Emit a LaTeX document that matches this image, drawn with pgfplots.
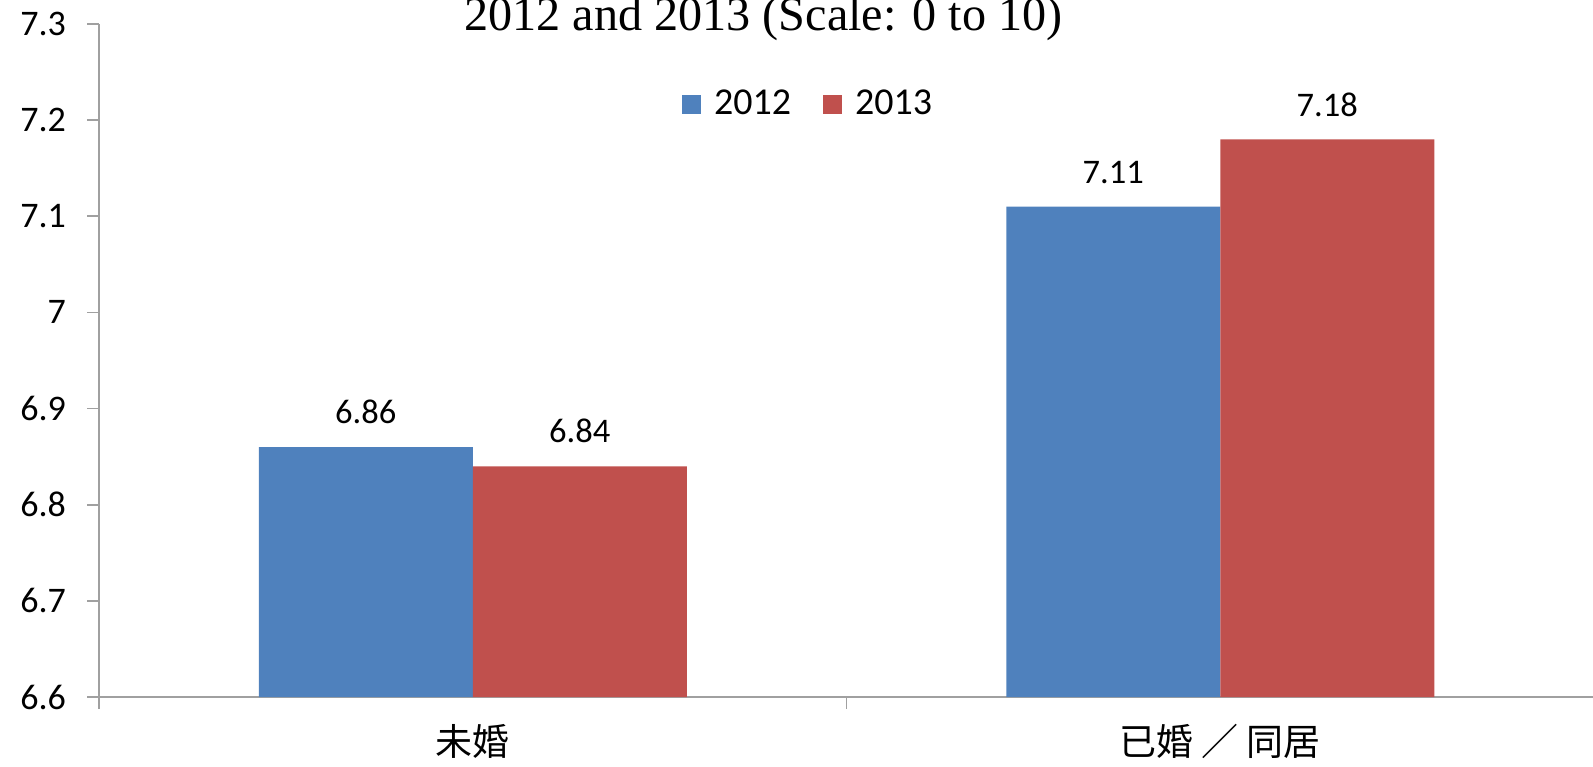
\documentclass[border=0pt]{standalone}
\usepackage{fontspec}
\setmainfont{Carlito}
\newfontfamily\timesfont{Liberation Serif}
\newfontfamily\cjk{Noto Sans CJK TC}
\usepackage{pgfplots}
\pgfplotsset{compat=1.18}
\definecolor{cblue}{HTML}{4F81BD}
\definecolor{cred}{HTML}{C0504D}
\definecolor{axgray}{HTML}{A0A0A0}
\begin{document}
\begin{tikzpicture}
\useasboundingbox (0,0) rectangle (796.5pt,383pt);
\begin{axis}[
  at={(49.5pt,34.5pt)}, anchor=south west,
  scale only axis, width=747.5pt, height=336.5pt,
  xmin=-0.5, xmax=1.5, ymin=6.6, ymax=7.3,
  ybar=0pt, bar width=107pt,
  axis x line=bottom, axis y line=left,
  axis line style={-, draw=axgray, line width=0.8pt},
  tick align=outside, major tick length=6pt,
  tick style={draw=axgray, line width=0.8pt},
  ytick={6.6,6.7,6.8,6.9,7,7.1,7.2,7.3},
  yticklabel style={font=\fontsize{18}{20}\selectfont, xshift=-7pt, /pgf/number format/assume math mode=true},
  xtick={-0.5,0.5,1.5}, xticklabels={,,},
  extra x ticks={0,1},
  extra x tick labels={{\cjk 未婚},{\cjk 已婚\hspace{4pt}／\hspace{4pt}同居}},
  extra x tick style={major tick length=0pt, xticklabel style={font=\fontsize{18.5}{20}\selectfont, yshift=-10pt}},
  nodes near coords,
  nodes near coords style={font=\fontsize{17.25}{20}\selectfont, color=black, anchor=south, yshift=8pt,
     /pgf/number format/.cd, fixed, precision=2, fixed zerofill, assume math mode=true},
  legend style={at={(0.475,0.881)}, anchor=center, draw=none, fill=none,
     legend columns=2, font=\fontsize{19}{20}\selectfont,
     /tikz/every odd column/.append style={column sep=4.5pt},
     /tikz/every even column/.append style={column sep=14pt}},
  legend image code/.code={\fill[#1,draw=none] (0pt,-4.75pt) rectangle (9.5pt,4.75pt);},
  title={\timesfont 2012 and 2013 (Scale: 0 to 10)},
  title style={at={(0.4445,0.9732)}, anchor=base, font=\fontsize{24.1}{26}\selectfont, inner sep=0pt},
]
\addplot[fill=cblue, draw=none] coordinates {(0,6.86) (1,7.11)};
\addplot[fill=cred, draw=none] coordinates {(0,6.84) (1,7.18)};
\legend{2012,2013}
\end{axis}
\end{tikzpicture}
\end{document}
